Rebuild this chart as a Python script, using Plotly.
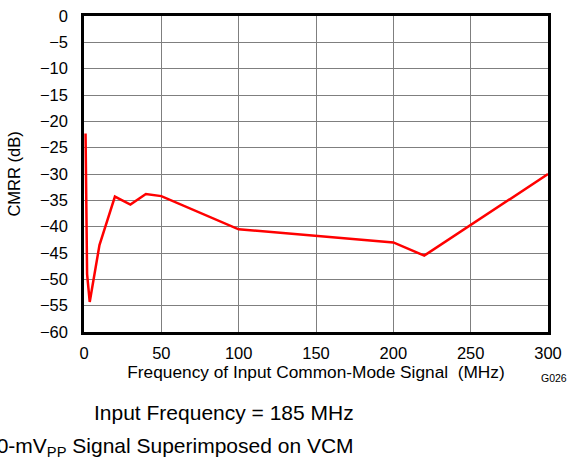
import plotly.graph_objects as go

freq_mhz = [1, 2, 3.7, 10, 20, 30, 40, 50, 100, 200, 220, 300]
cmrr_db = [-22.3, -49.0, -54.3, -43.5, -34.3, -35.8, -33.8, -34.2, -40.5, -43.0, -45.5, -30.0]

x_ticks = [0, 50, 100, 150, 200, 250, 300]
y_ticks = list(range(0, -61, -5))

FONT = "Liberation Sans, Arial, sans-serif"

fig = go.Figure()
fig.add_trace(go.Scatter(x=freq_mhz, y=cmrr_db, mode="lines",
                         line=dict(color="#ff0000", width=2.5),
                         showlegend=False, hoverinfo="skip"))

fig.update_layout(
    width=572, height=462,
    margin=dict(l=84, r=24, t=16, b=130),
    paper_bgcolor="white", plot_bgcolor="white",
    font=dict(family=FONT, color="black", size=16),
)
fig.update_xaxes(range=[0, 300], tickvals=x_ticks, ticks="", showgrid=True,
                 gridcolor="#7f7f7f", gridwidth=1.3, showline=True, linecolor="black",
                 linewidth=2.5, mirror=True, zeroline=False, automargin=False,
                 ticklabeloverflow="allow",
                 tickfont=dict(size=16.5), ticklabelstandoff=4,
                 title=dict(text="Frequency of Input Common-Mode Signal\u00a0\u00a0(MHz)",
                            font=dict(size=17.3), standoff=6))
fig.update_yaxes(range=[-60, 0], tickvals=y_ticks, ticks="", showgrid=True,
                 gridcolor="#7f7f7f", gridwidth=1.3, showline=True, linecolor="black",
                 linewidth=2.5, mirror=True, zeroline=False, automargin=False,
                 ticklabeloverflow="allow",
                 tickfont=dict(size=16.5), ticklabelstandoff=10,
                 title=dict(text="CMRR (dB)", font=dict(size=16.5), standoff=16))

fig.add_annotation(text="G026", xref="paper", yref="paper", x=(569 - 84) / 464, y=-(378 - 332) / 316,
                   xanchor="right", yanchor="middle", showarrow=False,
                   font=dict(size=10.5))
fig.add_annotation(text="Input Frequency = 185 MHz", xref="paper", yref="paper",
                   x=(356 - 84) / 464, y=-(412.5 - 332) / 316,
                   xanchor="right", yanchor="middle", showarrow=False,
                   font=dict(size=21))
fig.add_annotation(text="50-mV<sub>PP</sub> Signal Superimposed on VCM", xref="paper", yref="paper",
                   x=(356 - 84) / 464, y=-(447 - 332) / 316,
                   xanchor="right", yanchor="middle", showarrow=False,
                   font=dict(size=21))

fig.write_html("out.html", config={"displayModeBar": False},
               post_script="document.body.style.margin='0';document.body.style.overflow='hidden';")
